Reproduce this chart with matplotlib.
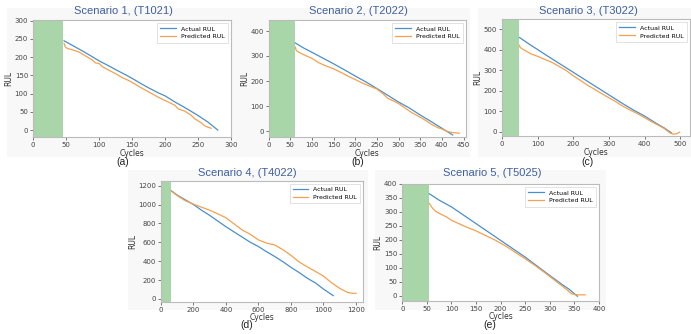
import matplotlib.pyplot as plt
from matplotlib.patches import Rectangle

# ---- data ----
titles = ['Scenario 1, (T1021)', 'Scenario 2, (T2022)', 'Scenario 3, (T3022)',
          'Scenario 4, (T4022)', 'Scenario 5, (T5025)']
letters = ['(a)', '(b)', '(c)', '(d)', '(e)']
green_end = [46, 62, 48, 60, 55]

act1_x = [47, 60, 75, 90, 100, 115, 125, 140, 150, 165, 175, 190, 200, 215, 225, 240, 250, 265, 280]
act1_y = [245, 232, 217, 201, 190, 176, 166, 152, 142, 126, 116, 102, 94, 77, 67, 51, 40, 22, 0]
pred1_x = [47, 49, 52, 60, 70, 80, 90, 95, 100, 105, 115, 125, 135, 145, 150, 160, 170, 180, 190,
           200, 205, 215, 220, 230, 240, 245, 255, 260, 265, 270]
pred1_y = [238, 228, 224, 220, 214, 203, 192, 184, 183, 174, 164, 155, 144, 136, 131, 120, 110, 100, 90,
           81, 77, 68, 58, 52, 40, 31, 20, 12, 8, 5]

act2_x = [62, 80, 100, 125, 150, 175, 200, 225, 250, 275, 300, 325, 350, 375, 400, 425]
act2_y = [352, 333, 315, 292, 269, 245, 220, 196, 170, 143, 116, 92, 64, 38, 11, -16]
pred2_x = [62, 64, 70, 85, 100, 115, 130, 150, 170, 185, 200, 215, 230, 250, 265, 275, 290, 300,
           315, 330, 345, 360, 375, 390, 400, 410, 420, 430, 440]
pred2_y = [335, 322, 315, 302, 291, 274, 262, 249, 232, 218, 206, 193, 182, 168, 148, 131, 119, 110,
           92, 74, 60, 45, 28, 14, 8, 0, -5, -7, -9]

act3_x = [49, 75, 100, 130, 160, 190, 220, 250, 280, 310, 340, 370, 400, 430, 455, 475]
act3_y = [459, 428, 400, 366, 333, 300, 267, 234, 201, 168, 135, 104, 76, 43, 18, -6]
pred3_x = [49, 51, 60, 80, 100, 120, 140, 160, 180, 200, 220, 240, 260, 280, 300, 320, 340, 360,
           380, 400, 420, 440, 455, 470, 480, 490, 498]
pred3_y = [420, 410, 400, 380, 367, 352, 338, 318, 298, 272, 250, 226, 206, 185, 165, 145, 123, 105,
           88, 68, 48, 30, 15, -5, -12, -10, -2]

act4_x = [65, 100, 150, 200, 250, 300, 350, 400, 450, 500, 550, 600, 650, 700, 750, 800, 850,
          900, 950, 1000, 1030, 1060]
act4_y = [1145, 1100, 1050, 1000, 940, 885, 825, 765, 710, 655, 600, 555, 500, 450, 395, 335, 280,
          220, 170, 105, 70, 35]
pred4_x = [65, 100, 150, 200, 250, 300, 350, 400, 450, 500, 550, 600, 650, 700, 750, 800, 850,
           900, 950, 1000, 1050, 1100, 1150, 1180, 1200]
pred4_y = [1140, 1095, 1040, 1005, 972, 940, 902, 860, 795, 730, 685, 625, 592, 572, 522, 462, 392,
           340, 292, 242, 172, 112, 68, 60, 60]

act5_x = [55, 75, 100, 125, 150, 175, 200, 225, 250, 275, 300, 325, 340, 356]
act5_y = [365, 342, 318, 288, 258, 228, 198, 168, 138, 105, 72, 40, 22, -2]
pred5_x = [55, 58, 62, 68, 75, 90, 100, 115, 130, 150, 170, 190, 210, 230, 250, 270, 290, 310,
           330, 345, 355, 372]
pred5_y = [330, 322, 312, 302, 295, 282, 270, 258, 246, 232, 215, 198, 178, 155, 132, 108, 82, 55,
           28, 6, 3, 3]

actual = [(act1_x, act1_y), (act2_x, act2_y), (act3_x, act3_y), (act4_x, act4_y), (act5_x, act5_y)]
predicted = [(pred1_x, pred1_y), (pred2_x, pred2_y), (pred3_x, pred3_y), (pred4_x, pred4_y),
             (pred5_x, pred5_y)]
xlims = [(0, 300), (0, 455), (0, 527), (0, 1245), (0, 400)]
ylims = [(-19, 302), (-24, 444), (-21, 549), (-29, 1253), (-18, 400)]
xticks = [range(0, 301, 50), range(0, 451, 50), range(0, 501, 100), range(0, 1201, 200), range(0, 401, 50)]
yticks = [range(0, 301, 50), range(0, 401, 100), range(0, 501, 100), range(0, 1201, 200), range(0, 401, 50)]

W, H = 691, 334
fig = plt.figure(figsize=(W / 100, H / 100), dpi=100)
fig.patch.set_facecolor('white')

# pixel boxes: left, top, right, bottom
boxes = [(33, 20, 231, 137), (268.5, 20, 465.7, 137), (502, 19, 690, 136),
         (161, 180.7, 363.3, 301.7), (402.3, 184, 599, 300.7)]
# faint screenshot backgrounds
bgs = [(7, 8, 240, 157), (240, 8, 470, 157), (478, 8, 691, 157),
       (128, 170, 368, 310), (375, 170, 606, 310)]
title_pos = [(123.5, 11.5), (358, 11.5), (588, 11.5), (247.5, 173), (492, 173)]
letter_pos = [(123, 162), (358, 162), (588, 162), (247, 325), (490, 325)]

for (l, t, r, b) in bgs:
    fig.add_artist(Rectangle((l / W, 1 - b / H), (r - l) / W, (b - t) / H,
                             transform=fig.transFigure, facecolor='#f8f8f8',
                             edgecolor='none', zorder=-10))

for i in range(5):
    l, t, r, b = boxes[i]
    ax = fig.add_axes([l / W, 1 - b / H, (r - l) / W, (b - t) / H])
    ax.set_facecolor('white')
    ax.axvspan(0, green_end[i], color='#a9d6a9', lw=0)
    ax.plot(actual[i][0], actual[i][1], color='#4a8fcb', lw=0.9, label='Actual RUL')
    ax.plot(predicted[i][0], predicted[i][1], color='#f5a04f', lw=0.9, label='Predicted RUL')
    ax.set_xlim(xlims[i])
    ax.set_ylim(ylims[i])
    ax.set_xticks(list(xticks[i]))
    ax.set_yticks(list(yticks[i]))
    ax.tick_params(labelsize=5, length=2, width=0.5, pad=1.5, colors='#444444')
    for s in ax.spines.values():
        s.set_color('#bbbbbb')
        s.set_linewidth(0.8)
    ax.set_xlabel('Cycles', fontsize=5.5, labelpad=0.5, color='#333333')
    ax.set_ylabel('RUL', fontsize=5.5, labelpad=1, color='#333333')
    leg = ax.legend(loc='upper right', fontsize=4.5, frameon=True, handlelength=2.5,
                    borderpad=0.5, labelspacing=0.4, fancybox=False)
    leg.get_frame().set_edgecolor('#cccccc')
    leg.get_frame().set_linewidth(0.5)

    tx, ty = title_pos[i]
    fig.text(tx / W, 1 - ty / H, titles[i], ha='center', va='center', fontsize=8,
             family='Liberation Sans', color='#3f5f9e')
    lx, ly = letter_pos[i]
    fig.text(lx / W, 1 - ly / H, letters[i], ha='center', va='center', fontsize=7.5,
             family='Liberation Sans', color='#222222')

fig.savefig('out.png', dpi=100)
